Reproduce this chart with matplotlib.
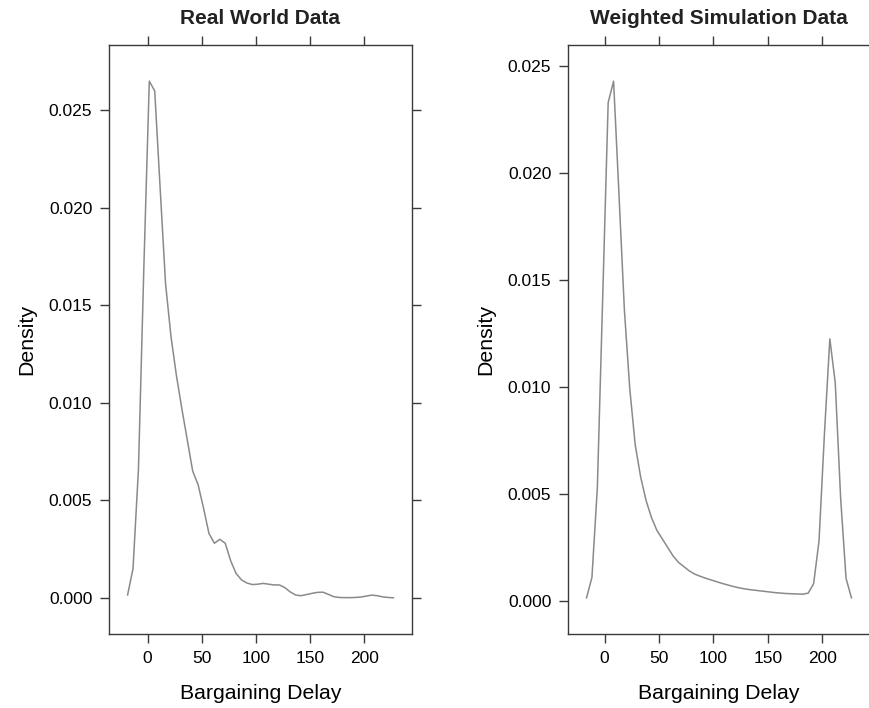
import numpy as np
import matplotlib
matplotlib.use("Agg")
import matplotlib.pyplot as plt

plt.rcParams['font.family'] = ['Liberation Sans', 'DejaVu Sans']

# density estimates, 50 grid points each
real_x = np.linspace(-18.5, 227.0, 50)
real_y = [0.00015, 0.0015, 0.0066, 0.0170, 0.0265, 0.0260, 0.0210, 0.0161, 0.0134, 0.0114,
          0.0097, 0.0081, 0.0065, 0.0058, 0.0046, 0.0033, 0.0028, 0.0030, 0.0028, 0.0019,
          0.00125, 0.00092, 0.00076, 0.00068, 0.00070, 0.00074, 0.00070, 0.00066, 0.00066, 0.00052,
          0.00030, 0.00014, 0.00011, 0.00017, 0.00023, 0.00028, 0.00029, 0.00018, 0.00006, 0.00002,
          0.00001, 0.00001, 0.00002, 0.00004, 0.00009, 0.00014, 0.00011, 0.00005, 0.00002, 0.0]

sim_x = np.linspace(-16.5, 226.8, 50)
sim_y = [0.00014, 0.0011, 0.0053, 0.0143, 0.0233, 0.0243, 0.0190, 0.0136, 0.0099, 0.0073,
         0.0058, 0.0047, 0.0039, 0.0033, 0.0029, 0.0025, 0.0021, 0.0018, 0.0016, 0.0014,
         0.00125, 0.00115, 0.00106, 0.00098, 0.00090, 0.00082, 0.00075, 0.00068, 0.00062, 0.00057,
         0.00053, 0.00050, 0.00047, 0.00044, 0.00041, 0.00038, 0.00036, 0.00034, 0.00033, 0.00032,
         0.00031, 0.00036, 0.0008, 0.0028, 0.0078, 0.01225, 0.0102, 0.0048, 0.00105, 0.00014]

panels = [("Real World Data", real_x, real_y), ("Weighted Simulation Data", sim_x, sim_y)]
xticks = [0, 50, 100, 150, 200]
yticks = [0.0, 0.005, 0.010, 0.015, 0.020, 0.025]

fig = plt.figure(figsize=(8.69, 7.08), dpi=100)
positions = [[109/869, 74/708, 303/869, 589/708],
             [568/869, 74/708, 302/869, 589/708]]
frame = '#3a3a3a'

for pos, (title, x, y) in zip(positions, panels):
    ax = fig.add_axes(pos)
    ax.plot(x, y, color='#8a8a8a', lw=1.1)
    # lattice-style 7% padding
    xr = x.max() - x.min()
    ax.set_xlim(x.min() - 0.07*xr, x.max() + 0.07*xr)
    yr = max(y) - min(y)
    ax.set_ylim(min(y) - 0.07*yr, max(y) + 0.07*yr)
    ax.set_xticks(xticks)
    ax.set_yticks(yticks)
    ax.set_yticklabels(['%.3f' % v for v in yticks])
    ax.tick_params(direction='out', length=6.5, width=1, color=frame,
                   labelsize=12.5, top=True, right=True, pad=5.5)
    for s in ax.spines.values():
        s.set_color(frame)
        s.set_linewidth(1)
    ax.set_title(title, fontsize=15, fontweight='bold', pad=15, color='#222222')
    ax.set_xlabel('Bargaining Delay', fontsize=15.3, labelpad=13)
    ax.set_ylabel('Density', fontsize=15.3, labelpad=9)

plt.savefig('out.png', dpi=100)
